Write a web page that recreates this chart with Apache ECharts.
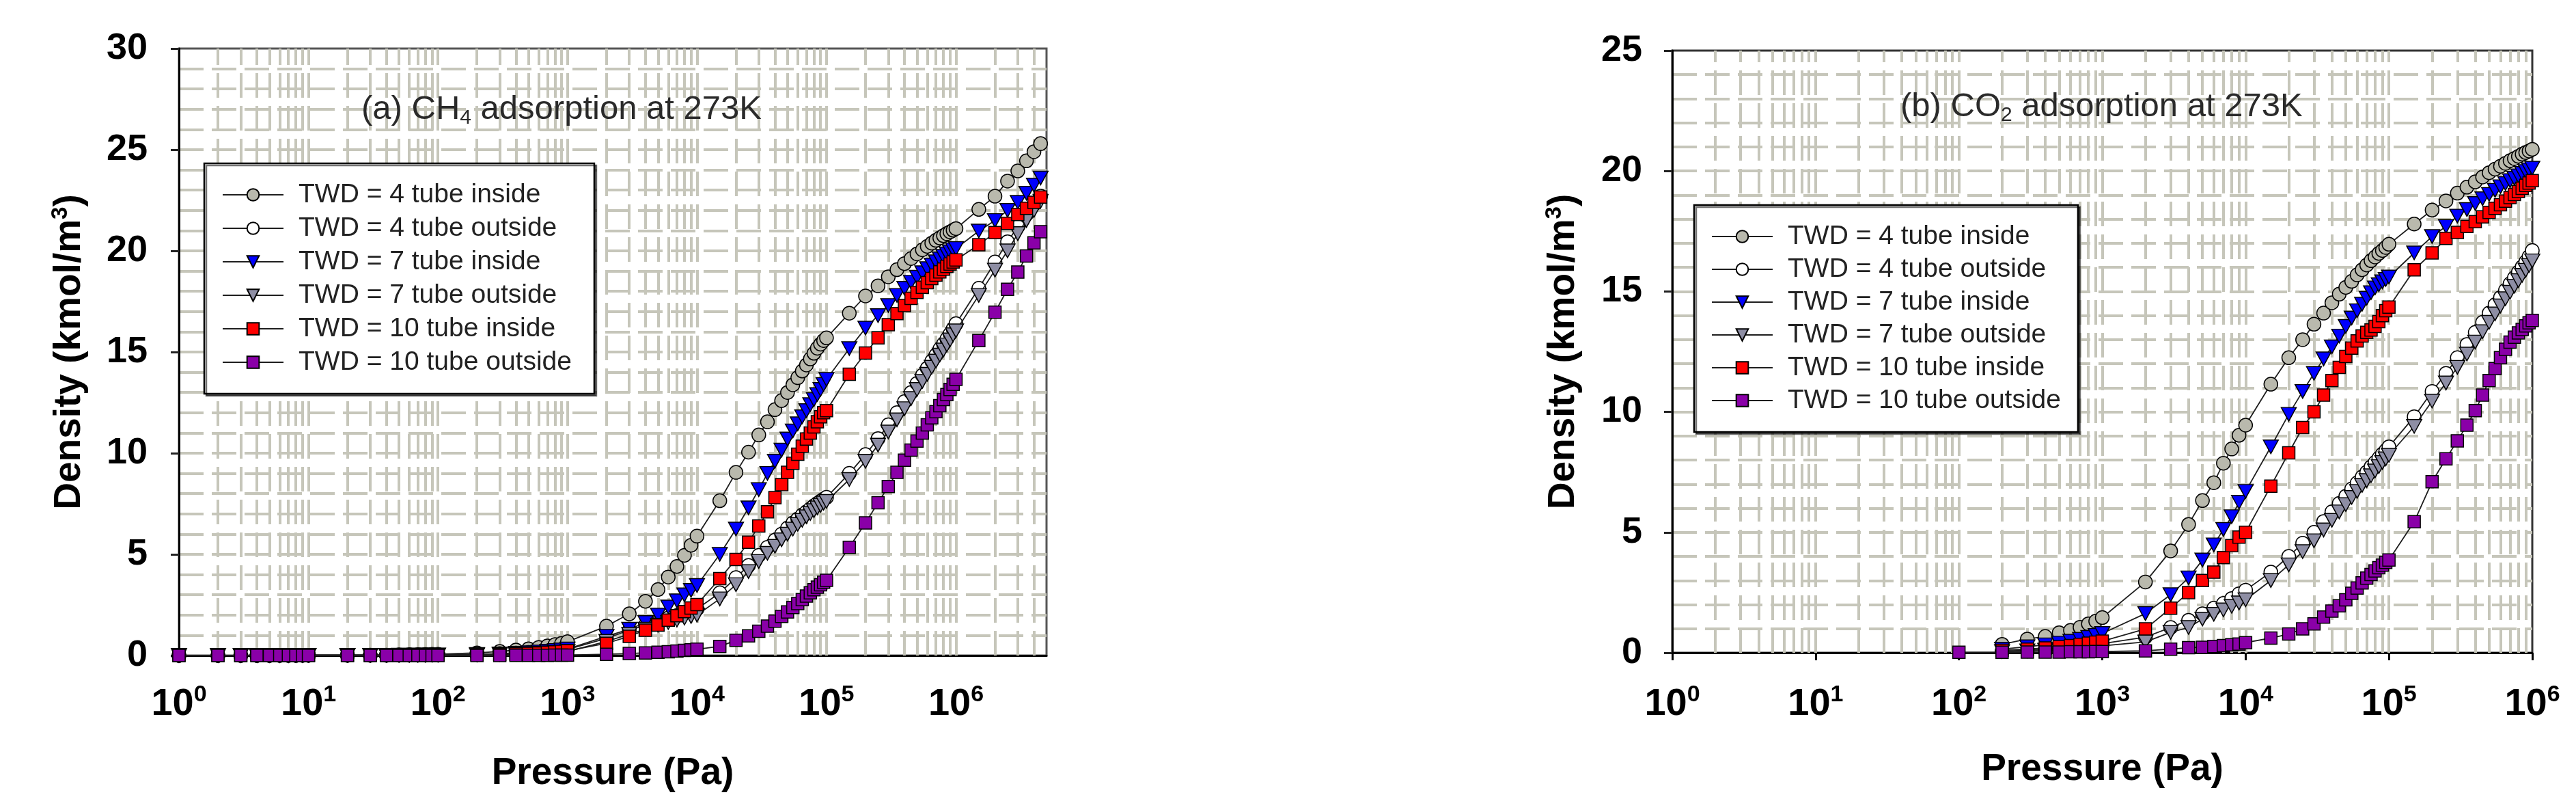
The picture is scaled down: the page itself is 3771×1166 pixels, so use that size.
<!DOCTYPE html>
<html>
<head>
<meta charset="utf-8">
<script src="https://cdn.jsdelivr.net/npm/echarts@6.0.0/dist/echarts.min.js"></script>
<style>
html,body{margin:0;padding:0;background:#fff;}
#chart{width:3771px;height:1166px;}
</style>
</head>
<body>
<div id="chart"></div>
<script>
// ---------------- DATA ----------------
const seriesNames = ['TWD = 4 tube inside','TWD = 4 tube outside','TWD = 7 tube inside','TWD = 7 tube outside','TWD = 10 tube inside','TWD = 10 tube outside'];
const xTickExponents = [0,1,2,3,4,5,6];

// (a) CH4 at 273K : pressure (Pa)
const ch4Pressure = [1,2,3,4,5,6,7,8,9,10,
  20,30,40,50,60,70,80,90,100,
  200,300,400,500,600,700,800,900,1000,
  2000,3000,4000,5000,6000,7000,8000,9000,10000,
  15000,20000,25000,30000,35000,40000,45000,50000,55000,60000,65000,70000,75000,80000,85000,90000,95000,100000,
  150000,200000,250000,300000,350000,400000,450000,500000,550000,600000,650000,700000,750000,800000,850000,900000,950000,1000000,
  1500000,2000000,2500000,3000000,3500000,4000000,4500000];

const ch4Twd4In = [0,0,0,0,0,0.01,0.01,0.01,0.01,0.01,
  0.01,0.02,0.02,0.03,0.04,0.04,0.05,0.06,0.06,
  0.13,0.2,0.27,0.33,0.4,0.47,0.54,0.6,0.68,
  1.45,2.06,2.68,3.26,3.88,4.4,4.95,5.45,5.9,
  7.65,9.05,10.05,10.9,11.55,12.15,12.6,13.0,13.38,13.73,14.06,14.36,14.66,14.94,15.19,15.39,15.57,15.7,
  16.92,17.77,18.27,18.72,19.07,19.37,19.62,19.85,20.05,20.22,20.38,20.52,20.64,20.75,20.85,20.94,21.02,21.1,
  22.05,22.7,23.45,23.95,24.45,24.9,25.3];
const ch4Twd4Out = [0,0,0,0,0,0,0,0,0.01,0.01,
  0.01,0.01,0.01,0.02,0.02,0.02,0.02,0.03,0.03,
  0.06,0.09,0.12,0.15,0.18,0.21,0.24,0.27,0.3,
  0.85,1.25,1.5,1.7,1.85,1.98,2.1,2.2,2.3,
  3.1,3.85,4.45,4.95,5.35,5.7,6.0,6.3,6.55,6.75,6.95,7.1,7.25,7.4,7.52,7.63,7.73,7.82,
  9.0,9.93,10.72,11.4,12.0,12.55,13.0,13.45,13.85,14.2,14.55,14.85,15.15,15.4,15.65,15.9,16.15,16.4,
  18.15,19.45,20.45,21.2,21.8,22.3,22.7];
const ch4Twd7In = [0,0,0,0,0,0,0,0.01,0.01,0.01,
  0.01,0.01,0.01,0.02,0.02,0.02,0.03,0.03,0.03,
  0.05,0.08,0.11,0.14,0.18,0.21,0.25,0.28,0.32,
  0.95,1.3,1.63,2.0,2.4,2.7,3.0,3.22,3.46,
  5.0,6.25,7.3,8.2,9.0,9.6,10.15,10.7,11.1,11.45,11.8,12.1,12.4,12.65,12.9,13.15,13.4,13.65,
  15.17,16.18,16.8,17.3,17.8,18.15,18.45,18.7,18.92,19.12,19.3,19.46,19.6,19.73,19.85,19.95,20.05,20.12,
  20.98,21.5,22.0,22.4,22.85,23.25,23.6];
const ch4Twd7Out = [0,0,0,0,0,0,0,0,0,0.01,
  0.01,0.01,0.01,0.01,0.01,0.02,0.02,0.02,0.02,
  0.03,0.05,0.07,0.09,0.11,0.13,0.15,0.17,0.2,
  0.7,1.05,1.3,1.5,1.63,1.75,1.85,1.93,2.0,
  2.8,3.5,4.15,4.65,5.05,5.4,5.72,6.0,6.25,6.48,6.68,6.86,7.02,7.16,7.3,7.42,7.53,7.62,
  8.7,9.6,10.4,11.05,11.65,12.2,12.7,13.15,13.55,13.9,14.25,14.55,14.85,15.1,15.35,15.6,15.85,16.05,
  17.8,19.05,20.0,20.85,21.5,22.0,22.45];
const ch4Twd10In = [0,0,0,0,0,0,0,0,0,0.01,
  0.01,0.01,0.01,0.01,0.01,0.02,0.02,0.02,0.02,
  0.03,0.05,0.08,0.1,0.12,0.15,0.18,0.2,0.23,
  0.6,0.95,1.25,1.5,1.75,1.97,2.17,2.35,2.52,
  3.8,4.75,5.6,6.4,7.1,7.8,8.45,9.05,9.5,9.95,10.35,10.7,11.0,11.3,11.55,11.8,12.0,12.1,
  13.9,14.95,15.7,16.35,16.9,17.3,17.65,17.95,18.2,18.43,18.63,18.8,18.96,19.1,19.23,19.35,19.45,19.55,
  20.3,20.9,21.36,21.8,22.1,22.4,22.66];
const ch4Twd10Out = [0,0,0,0,0,0,0,0,0,0,
  0,0,0,0,0,0,0,0,0,
  0,0,0.01,0.01,0.01,0.01,0.02,0.02,0.02,
  0.06,0.1,0.13,0.16,0.19,0.22,0.25,0.28,0.31,
  0.45,0.75,0.97,1.2,1.45,1.7,1.93,2.15,2.37,2.57,2.76,2.94,3.1,3.25,3.38,3.5,3.62,3.72,
  5.35,6.55,7.55,8.35,9.05,9.65,10.15,10.6,11.0,11.4,11.75,12.05,12.35,12.65,12.9,13.15,13.4,13.65,
  15.57,16.97,18.1,18.95,19.75,20.4,20.95];

// (b) CO2 at 273K : pressure (Pa)
const co2Pressure = [200,300,400,500,600,700,800,900,1000,
  2000,3000,4000,5000,6000,7000,8000,9000,10000,
  15000,20000,25000,30000,35000,40000,45000,50000,55000,60000,65000,70000,75000,80000,85000,90000,95000,100000,
  150000,200000,250000,300000,350000,400000,450000,500000,550000,600000,650000,700000,750000,800000,850000,900000,950000,1000000];
const co2PressureTwd10Out = [100,200,300,400,500,600,700,800,900,1000,
  2000,3000,4000,5000,6000,7000,8000,9000,10000,
  15000,20000,25000,30000,35000,40000,45000,50000,55000,60000,65000,70000,75000,80000,85000,90000,95000,100000,
  150000,200000,250000,300000,350000,400000,450000,500000,550000,600000,650000,700000,750000,800000,850000,900000,950000,1000000];

const co2Twd4In = [0.35,0.57,0.68,0.83,0.93,1.06,1.2,1.31,1.46,
  2.94,4.23,5.33,6.32,7.06,7.87,8.46,9.03,9.45,
  11.15,12.25,13.0,13.64,14.1,14.53,14.89,15.17,15.42,15.69,15.9,16.1,16.28,16.43,16.58,16.7,16.83,16.96,
  17.8,18.38,18.76,19.08,19.33,19.55,19.75,19.93,20.08,20.2,20.32,20.43,20.52,20.61,20.7,20.77,20.83,20.9];
const co2Twd4Out = [0.07,0.1,0.14,0.18,0.22,0.26,0.3,0.34,0.38,
  0.65,1.05,1.35,1.62,1.85,2.05,2.25,2.45,2.6,
  3.35,4.0,4.55,5.0,5.45,5.85,6.2,6.5,6.8,7.05,7.3,7.5,7.72,7.9,8.08,8.25,8.4,8.55,
  9.8,10.85,11.6,12.25,12.8,13.3,13.72,14.1,14.45,14.75,15.05,15.32,15.57,15.8,16.02,16.23,16.45,16.7];
const co2Twd7In = [0.15,0.25,0.33,0.4,0.48,0.56,0.64,0.72,0.8,
  1.63,2.41,3.11,3.85,4.48,5.12,5.65,6.25,6.7,
  8.55,9.9,10.85,11.6,12.2,12.7,13.15,13.55,13.9,14.2,14.47,14.72,14.95,15.15,15.28,15.4,15.5,15.6,
  16.6,17.28,17.7,18.13,18.4,18.65,18.85,19.03,19.2,19.35,19.48,19.6,19.7,19.8,19.9,19.98,20.05,20.12];
const co2Twd7Out = [0.05,0.08,0.11,0.14,0.17,0.2,0.23,0.26,0.29,
  0.45,0.85,1.05,1.4,1.6,1.78,1.93,2.07,2.2,
  3.0,3.65,4.2,4.65,5.1,5.5,5.85,6.15,6.45,6.7,6.95,7.15,7.35,7.55,7.73,7.9,8.05,8.2,
  9.4,10.45,11.2,11.85,12.4,12.9,13.33,13.72,14.07,14.4,14.7,14.97,15.22,15.45,15.67,15.88,16.08,16.27];
const co2Twd10In = [0.1,0.15,0.2,0.25,0.3,0.35,0.4,0.44,0.48,
  0.99,1.85,2.5,3.0,3.35,3.95,4.45,4.8,5.0,
  6.92,8.3,9.35,10.0,10.7,11.3,11.85,12.3,12.65,12.95,13.15,13.3,13.4,13.55,13.75,14.0,14.2,14.35,
  15.9,16.6,17.2,17.45,17.7,17.9,18.1,18.28,18.45,18.6,18.75,18.9,19.03,19.15,19.28,19.4,19.5,19.6];
const co2Twd10Out = [0.02,0.02,0.03,0.03,0.03,0.04,0.04,0.04,0.05,0.05,
  0.08,0.15,0.21,0.23,0.26,0.3,0.33,0.36,0.42,
  0.61,0.78,0.99,1.2,1.48,1.73,1.95,2.2,2.47,2.69,2.9,3.1,3.25,3.4,3.53,3.64,3.75,3.85,
  5.44,7.1,8.05,8.8,9.45,10.05,10.7,11.3,11.8,12.25,12.6,12.9,13.1,13.28,13.42,13.57,13.7,13.8];

// ---------------- STYLE ----------------
const FONT = 'Liberation Sans, Arial, Helvetica, sans-serif';
const GRID_COLOR = '#c6c6ba';
const DOWN_TRI = 'path://M0,0L20,0L10,17.3Z';
const markerStyles = [
  {symbol:'circle', size:20, fill:'#b9b9ad'},
  {symbol:'circle', size:20, fill:'#ffffff'},
  {symbol:DOWN_TRI, size:[22,20], fill:'#0000ff'},
  {symbol:DOWN_TRI, size:[22,20], fill:'#8e8ea4'},
  {symbol:'rect', size:18, fill:'#ff0000'},
  {symbol:'rect', size:18, fill:'#8a00a8'}
];

function logGridValues(maxVal){
  const out = [];
  for (let e = 0; e <= 7; e++) {
    const d = Math.pow(10, e);
    for (let m = 1; m <= 9; m++) {
      const v = m * d;
      if (v > 1 && v < maxVal) out.push(v);
    }
  }
  return out;
}

const richTick = {
  b:{fontFamily:FONT, fontSize:56, fontWeight:'bold', color:'#000', lineHeight:62},
  s:{fontFamily:FONT, fontSize:34, fontWeight:'bold', color:'#000', lineHeight:62, verticalAlign:'top'}
};
const richName = {
  b:{fontFamily:FONT, fontSize:55, fontWeight:'bold', color:'#000', lineHeight:60},
  s:{fontFamily:FONT, fontSize:33, fontWeight:'bold', color:'#000', lineHeight:60, verticalAlign:'top'}
};
const richTitle = {
  n:{fontFamily:FONT, fontSize:49, fontWeight:'normal', color:'#2a2a2a', lineHeight:56},
  s:{fontFamily:FONT, fontSize:30, fontWeight:'normal', color:'#2a2a2a', lineHeight:56, verticalAlign:'bottom'}
};

function makeX(idx, maxVal, ticks, labelMargin, nameGap){
  return {
    type:'log', logBase:10, gridIndex:idx, min:1, max:maxVal,
    axisLine:{show:true, onZero:false, lineStyle:{color:'#000', width:3}},
    axisTick:{show:ticks, length:11, lineStyle:{color:'#000', width:3}},
    splitLine:{show:false},
    minorTick:{show:false}, minorSplitLine:{show:false},
    axisLabel:{margin:labelMargin, formatter:function(v){
      const e = Math.round(Math.log10(v));
      if (xTickExponents.indexOf(e) < 0) return '';
      return '{b|10}{s|' + e + '}';
    }, rich:richTick},
    name:'{b|Pressure (Pa)}', nameLocation:'middle', nameGap:nameGap,
    nameTextStyle:{rich:richName}
  };
}
function makeY(idx, maxVal, labelMargin, nameGap){
  return {
    type:'value', gridIndex:idx, min:0, max:maxVal, interval:5,
    axisLine:{show:true, onZero:false, lineStyle:{color:'#000', width:3}},
    axisTick:{show:true, length:12, lineStyle:{color:'#222', width:3}},
    axisLabel:{margin:labelMargin, fontFamily:FONT, fontSize:54, fontWeight:'bold', color:'#000'},
    splitLine:{show:true, showMinLine:false, showMaxLine:false, lineStyle:{color:GRID_COLOR, width:4, type:[36,12]}},
    minorTick:{show:false, splitNumber:5},
    minorSplitLine:{show:true, lineStyle:{color:GRID_COLOR, width:4, type:[36,12]}},
    name:'{b|Density (kmol/m}{s|3}{b|)}', nameLocation:'middle', nameGap:nameGap, nameRotate:90,
    nameTextStyle:{rich:richName}
  };
}

function buildSeries(gridIdx, pressures, values){
  return values.map(function(vals, i){
    const p = pressures[i];
    const st = markerStyles[i];
    return {
      name:seriesNames[i], type:'line', xAxisIndex:gridIdx, yAxisIndex:gridIdx,
      data:p.map(function(x, k){ return [x, vals[k]]; }),
      symbol:st.symbol, symbolSize:st.size, showSymbol:true, showAllSymbol:true,
      lineStyle:{color:'#1e1e1e', width:1.8},
      itemStyle:{color:st.fill, borderColor:'#000', borderWidth:1.5},
      emphasis:{disabled:true}, z:3 + i
    };
  });
}
function gridHelper(gridIdx, maxVal){
  return {
    type:'line', xAxisIndex:gridIdx, yAxisIndex:gridIdx, data:[], silent:true, z:1,
    markLine:{
      z:1, silent:true, symbol:['none','none'], label:{show:false}, animation:false,
      lineStyle:{color:GRID_COLOR, width:4, type:[36,12]},
      emphasis:{disabled:true},
      data:logGridValues(maxVal).map(function(v){ return {xAxis:v}; })
    }
  };
}

function makeLegend(left, top, padding, gap){
  return {
    data:seriesNames, orient:'vertical', left:left, top:top, padding:padding,
    itemWidth:89, itemHeight:22, itemGap:gap, selectedMode:false,
    backgroundColor:'#ffffff', borderColor:'#000', borderWidth:2.5,
    shadowColor:'rgba(0,0,0,0.55)', shadowBlur:0, shadowOffsetX:3, shadowOffsetY:3,
    textStyle:{fontFamily:FONT, fontSize:39, color:'#222', lineHeight:40, padding:[0,0,0,17]}
  };
}

const ch4Values = [ch4Twd4In, ch4Twd4Out, ch4Twd7In, ch4Twd7Out, ch4Twd10In, ch4Twd10Out];
const co2Values = [co2Twd4In, co2Twd4Out, co2Twd7In, co2Twd7Out, co2Twd10In, co2Twd10Out];
const ch4P = ch4Values.map(function(){ return ch4Pressure; });
const co2P = [co2Pressure, co2Pressure, co2Pressure, co2Pressure, co2Pressure, co2PressureTwd10Out];

const option = {
  animation:false,
  backgroundColor:'#ffffff',
  title:[
    {text:'{n|(a) CH}{s|4}{n| adsorption at 273K}', left:529, top:132, padding:0, textStyle:{fontWeight:'normal', rich:richTitle}},
    {text:'{n|(b) CO}{s|2}{n| adsorption at 273K}', left:2782, top:128, padding:0, textStyle:{fontWeight:'normal', rich:richTitle}}
  ],
  legend:[
    makeLegend(299, 239, [26,33,26,26], 9),
    makeLegend(2480, 300, [26,25,26,25], 8)
  ],
  grid:[
    {left:262, top:71, width:1270, height:888, containLabel:false, outerBoundsMode:'none', show:true, borderColor:'#555', borderWidth:3, backgroundColor:'rgba(0,0,0,0)'},
    {left:2448, top:74, width:1259, height:881, containLabel:false, outerBoundsMode:'none', show:true, borderColor:'#333', borderWidth:3, backgroundColor:'rgba(0,0,0,0)'}
  ],
  xAxis:[ makeX(0, 5e6, false, 41, 143), makeX(1, 1e6, true, 45, 141) ],
  yAxis:[ makeY(0, 30, 46, 130), makeY(1, 25, 44, 129) ],
  series:[gridHelper(0, 5e6), gridHelper(1, 1e6)]
    .concat(buildSeries(0, ch4P, ch4Values))
    .concat(buildSeries(1, co2P, co2Values))
};

const chart = echarts.init(document.getElementById('chart'), null, {renderer:'canvas'});
chart.setOption(option);
</script>
</body>
</html>
